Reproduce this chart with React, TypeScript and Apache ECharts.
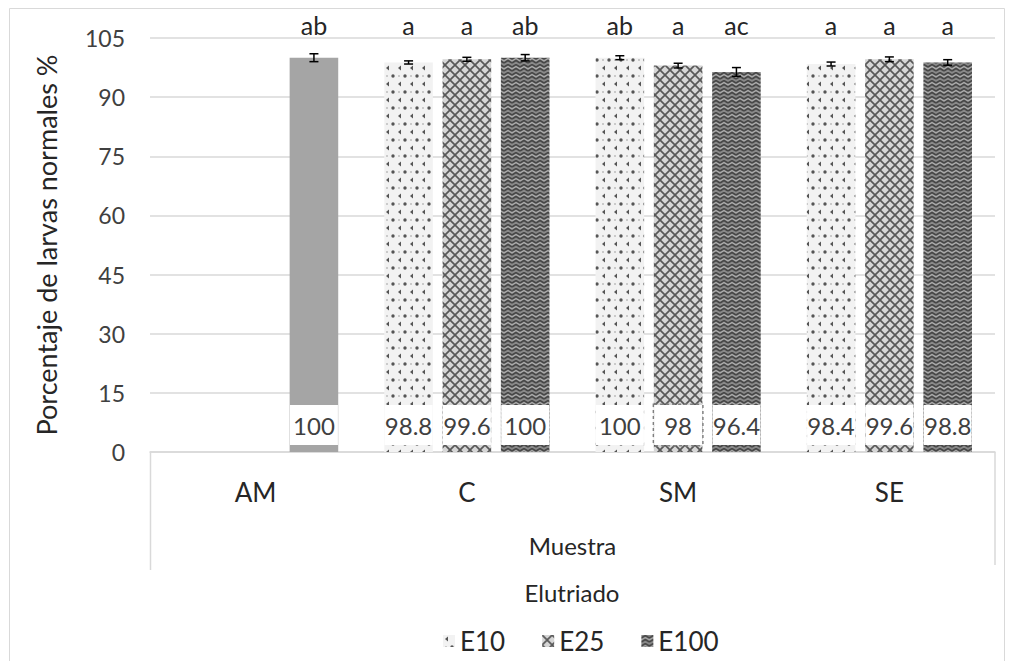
import React, { useEffect, useRef } from "react";
import * as echarts from "echarts";

const categories = ["AM", "C", "SM", "SE"];
const seriesNames = ["E10", "E25", "E100"];
const e10 = [null, 98.8, 100, 98.4];
const e25 = [null, 99.6, 98, 99.6];
const e100 = [100, 100, 96.4, 98.8];
const err10 = [null, 0.4, 0.5, 0.5];
const err25 = [null, 0.5, 0.6, 0.6];
const err100 = [1.0, 0.8, 1.1, 0.7];
const letters10 = ["", "a", "ab", "a"];
const letters25 = ["", "a", "a", "a"];
const letters100 = ["ab", "ab", "ac", "a"];
const yTicks = { min: 0, max: 105, interval: 15 };

const FONT = "Lato, 'Open Sans', sans-serif";
const BAR_W = 0.23;
const BAR_GAP = 0.2;

function makePattern(w: number, h: number, draw: (c: CanvasRenderingContext2D) => void) {
  const cv = document.createElement("canvas");
  cv.width = w;
  cv.height = h;
  const ctx = cv.getContext("2d")!;
  draw(ctx);
  return { image: cv.toDataURL(), repeat: "repeat", imageWidth: w, imageHeight: h } as any;
}

export default function App() {
  const ref = useRef<HTMLDivElement>(null);
  useEffect(() => {
    const chart = echarts.init(ref.current!, null, { renderer: "svg" });

    const p10 = makePattern(12, 16, (c) => {
      c.fillStyle = "#f2f2f2";
      c.fillRect(0, 0, 12, 16);
      c.fillStyle = "#555555";
      c.beginPath();
      c.moveTo(5, 1.5); c.lineTo(2, 4); c.lineTo(5, 6.5); c.closePath(); c.fill();
      c.beginPath();
      c.arc(9, 12, 1.7, 0, Math.PI * 2); c.fill();
      c.fillStyle = "#bdbdbd";
      c.beginPath();
      c.arc(3, 12, 1, 0, Math.PI * 2); c.fill();
    });
    const p25 = makePattern(10, 10, (c) => {
      c.fillStyle = "#d6d6d6";
      c.fillRect(0, 0, 10, 10);
      c.strokeStyle = "#585858";
      c.lineWidth = 1.7;
      c.beginPath();
      c.moveTo(-1, -1); c.lineTo(11, 11);
      c.moveTo(11, -1); c.lineTo(-1, 11);
      c.stroke();
    });
    const p100 = makePattern(8, 8, (c) => {
      c.fillStyle = "#8a8a8a";
      c.fillRect(0, 0, 8, 8);
      c.strokeStyle = "#474747";
      c.lineWidth = 1.5;
      c.beginPath();
      c.moveTo(0, 3); c.lineTo(4, 0.5); c.lineTo(8, 3);
      c.moveTo(0, 7); c.lineTo(4, 4.5); c.lineTo(8, 7);
      c.stroke();
      c.strokeStyle = "#b0b0b0";
      c.lineWidth = 1;
      c.beginPath();
      c.moveTo(0, 5); c.lineTo(4, 2.5); c.lineTo(8, 5);
      c.stroke();
    });
    const patterns = [p10, p25, p100];
    const values = [e10, e25, e100];
    const errs = [err10, err25, err100];
    const letters = [letters10, letters25, letters100];

    const barOffset = (band: number, s: number) => {
      const w = band * BAR_W;
      const g = w * BAR_GAP;
      const total = 3 * w + 2 * g;
      return -total / 2 + s * (w + g) + w / 2;
    };

    const labelBase = {
      show: true,
      position: "insideBottom",
      distance: 7,
      formatter: "{c}",
      backgroundColor: "#ffffff",
      width: 48,
      height: 40,
      lineHeight: 40,
      align: "center",
      color: "#404040",
      fontSize: 24,
      fontFamily: FONT,
    };

    const barSeries = seriesNames.map((name, s) => ({
      name,
      type: "bar",
      barWidth: BAR_W * 100 + "%",
      barGap: BAR_GAP * 100 + "%",
      itemStyle: { color: patterns[s] },
      label: labelBase,
      data: values[s].map((v, i) => {
        if (v == null) return "-";
        const item: any = { value: v };
        if (s === 2 && i === 0) item.itemStyle = { color: "#a5a5a5" };
        if (s === 1 && i === 2)
          item.label = { borderType: "dotted", borderColor: "#7f7f7f", borderWidth: 1.5 };
        return item;
      }),
    }));

    const errData: any[] = [];
    const letterData: any[] = [];
    seriesNames.forEach((_, s) => {
      categories.forEach((_, i) => {
        const v = values[s][i];
        if (v != null) errData.push([i, s, v, errs[s][i]]);
        if (letters[s][i]) letterData.push([i, s, letters[s][i]]);
      });
    });

    const option: any = {
      animation: false,
      backgroundColor: "#ffffff",
      grid: { left: 150, right: 15, top: 38, bottom: 209 },
      legend: {
        data: seriesNames,
        left: 438,
        top: 623,
        itemWidth: 12,
        itemHeight: 12,
        itemGap: 37,
        icon: "rect",
        textStyle: { fontSize: 26, fontFamily: FONT, color: "#262626" },
      },
      xAxis: {
        type: "category",
        data: categories,
        axisLine: { lineStyle: { color: "#d9d9d9", width: 1.5 } },
        axisTick: { show: false },
        axisLabel: { fontSize: 26, fontFamily: FONT, color: "#262626", margin: 27 },
        name: "Muestra",
        nameLocation: "middle",
        nameGap: 81,
        nameTextStyle: { fontSize: 24, fontFamily: FONT, color: "#262626" },
      },
      yAxis: {
        type: "value",
        min: yTicks.min,
        max: yTicks.max,
        interval: yTicks.interval,
        axisLine: { show: false },
        axisTick: { show: false },
        axisLabel: { fontSize: 23, fontFamily: FONT, color: "#404040", margin: 25 },
        splitLine: { lineStyle: { color: "#d9d9d9", width: 1.5 } },
        name: "Porcentaje de larvas normales %",
        nameLocation: "middle",
        nameGap: 90,
        nameTextStyle: { fontSize: 27, fontFamily: FONT, color: "#262626" },
      },
      graphic: [
        { type: "rect", shape: { x: 9.5, y: 8.5, width: 995, height: 670 }, style: { fill: "none", stroke: "#d9d9d9", lineWidth: 1 }, silent: true },
        { type: "line", shape: { x1: 150.5, y1: 452, x2: 150.5, y2: 570 }, style: { stroke: "#d9d9d9", lineWidth: 1.5 } },
        { type: "line", shape: { x1: 995, y1: 452, x2: 995, y2: 565 }, style: { stroke: "#d9d9d9", lineWidth: 1.5 } },
        { type: "text", x: 572, y: 592, style: { text: "Elutriado", textAlign: "center", textVerticalAlign: "middle", fontSize: 24, fontFamily: FONT, fill: "#262626" } },
      ],
      series: [
        ...barSeries,
        {
          type: "custom",
          name: "err",
          data: errData,
          encode: { x: 0, y: 2 },
          z: 5,
          renderItem: (params: any, api: any) => {
            const i = api.value(0);
            const s = api.value(1);
            const v = api.value(2);
            const e = api.value(3);
            const band = api.size([1, 0])[0];
            const off = barOffset(band, s);
            const top = api.coord([i, v + e]);
            const bot = api.coord([i, v - e]);
            const x = top[0] + off;
            const cap = 4.5;
            const st = { stroke: "#000", lineWidth: 1.5 };
            return {
              type: "group",
              children: [
                { type: "line", shape: { x1: x, y1: top[1], x2: x, y2: bot[1] }, style: st },
                { type: "line", shape: { x1: x - cap, y1: top[1], x2: x + cap, y2: top[1] }, style: st },
                { type: "line", shape: { x1: x - cap, y1: bot[1], x2: x + cap, y2: bot[1] }, style: st },
              ],
            };
          },
        },
        {
          type: "custom",
          name: "letters",
          data: letterData.map((d) => [d[0], d[1]]),
          encode: { x: 0 },
          z: 5,
          renderItem: (params: any, api: any) => {
            const i = api.value(0);
            const s = api.value(1);
            const band = api.size([1, 0])[0];
            const off = barOffset(band, s);
            const p = api.coord([i, 108.4]);
            return {
              type: "text",
              x: p[0] + off,
              y: p[1],
              style: {
                text: letterData[params.dataIndex][2],
                textAlign: "center",
                textVerticalAlign: "middle",
                fontSize: 25,
                fontFamily: FONT,
                fill: "#262626",
              },
            };
          },
        },
      ],
    };
    chart.setOption(option);
    return () => chart.dispose();
  }, []);
  return (
    <div
      ref={ref}
      style={{ position: "fixed", left: 0, top: 0, width: 1010, height: 661, background: "#fff" }}
    />
  );
}
